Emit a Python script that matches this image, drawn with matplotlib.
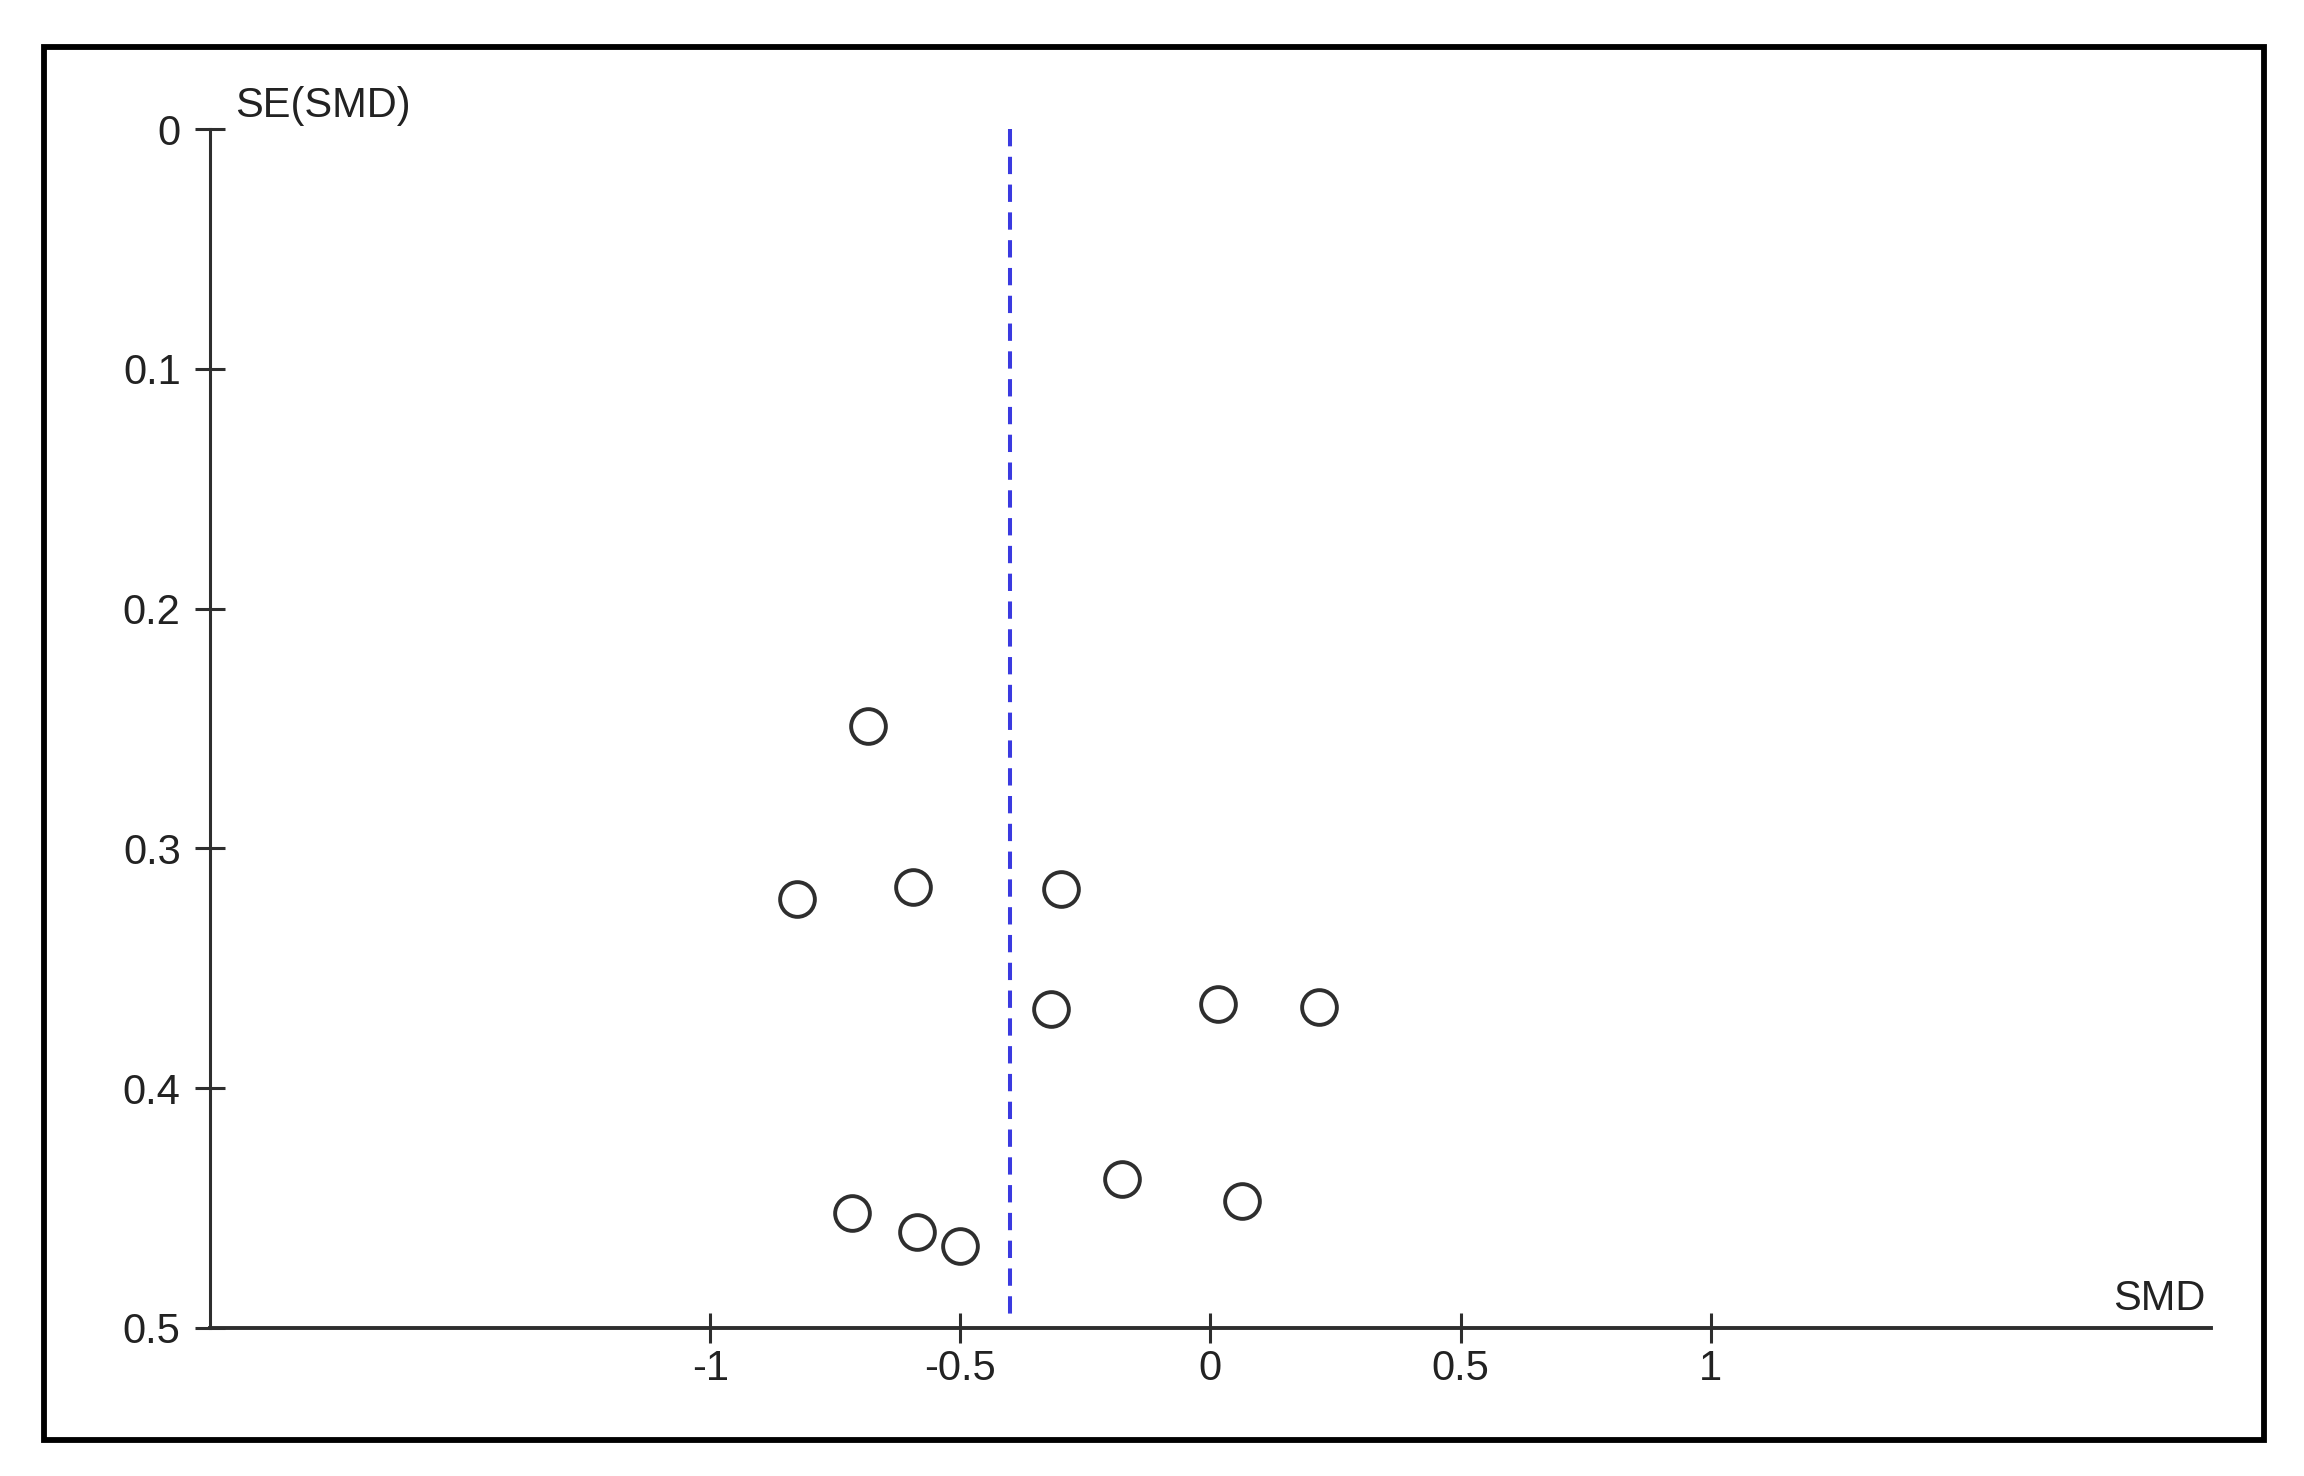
import matplotlib
matplotlib.use('Agg')
import matplotlib.pyplot as plt
from matplotlib.patches import Rectangle

# funnel plot data
smd = [-0.685, -0.826, -0.594, -0.299, -0.319, 0.015, 0.217, -0.176, 0.064, -0.717, -0.586, -0.501]
se = [0.249, 0.321, 0.316, 0.317, 0.367, 0.365, 0.366, 0.438, 0.447, 0.452, 0.460, 0.466]
pooled_smd = -0.40
x_ticks = [-1, -0.5, 0, 0.5, 1]
x_labels = ['-1', '-0.5', '0', '0.5', '1']
y_ticks = [0, 0.1, 0.2, 0.3, 0.4, 0.5]
y_labels = ['0', '0.1', '0.2', '0.3', '0.4', '0.5']

plt.rcParams['font.family'] = ['Liberation Sans', 'DejaVu Sans']

fig = plt.figure(figsize=(23.04, 14.76), dpi=100)
ax = fig.add_axes([0.0911, 0.1003, 0.8685, 0.8123])

axis_col = '#2e2e2e'
txt_col = '#222222'
ax.plot(smd, se, 'o', ms=25, mfc='white', mec=axis_col, mew=2.8, zorder=3)
ax.plot([pooled_smd, pooled_smd], [0, 0.496], color='#3a3ae0', lw=2.9,
        dashes=(4.3, 2.6), zorder=2)

ax.set_xlim(-2, 2)
ax.set_ylim(0.5, 0)
for s in ['top', 'right']:
    ax.spines[s].set_visible(False)
ax.spines['left'].set_color(axis_col)
ax.spines['left'].set_linewidth(2.2)
ax.spines['bottom'].set_color(axis_col)
ax.spines['bottom'].set_linewidth(2.8)

ax.set_xticks(x_ticks)
ax.set_xticklabels(x_labels)
ax.set_yticks(y_ticks)
ax.set_yticklabels(y_labels)
ax.tick_params(direction='inout', length=22, width=2.2, color=axis_col,
               labelsize=30, labelcolor=txt_col)
ax.tick_params(axis='x', pad=4)
ax.tick_params(axis='y', pad=10)

ax.text(-1.95, -0.005, 'SE(SMD)', fontsize=30, color=txt_col,
        ha='left', va='baseline', clip_on=False)
ax.text(1.99, 0.4926, 'SMD', fontsize=30, color=txt_col,
        ha='right', va='baseline', clip_on=False)

# outer black frame
frame = Rectangle((44 / 2304, 1 - 1440 / 1476), (2264 - 44) / 2304, (1440 - 47) / 1476,
                  transform=fig.transFigure, fill=False, ec='black', lw=4.2)
fig.patches.append(frame)

fig.savefig('out.png', dpi=100, facecolor='white')
